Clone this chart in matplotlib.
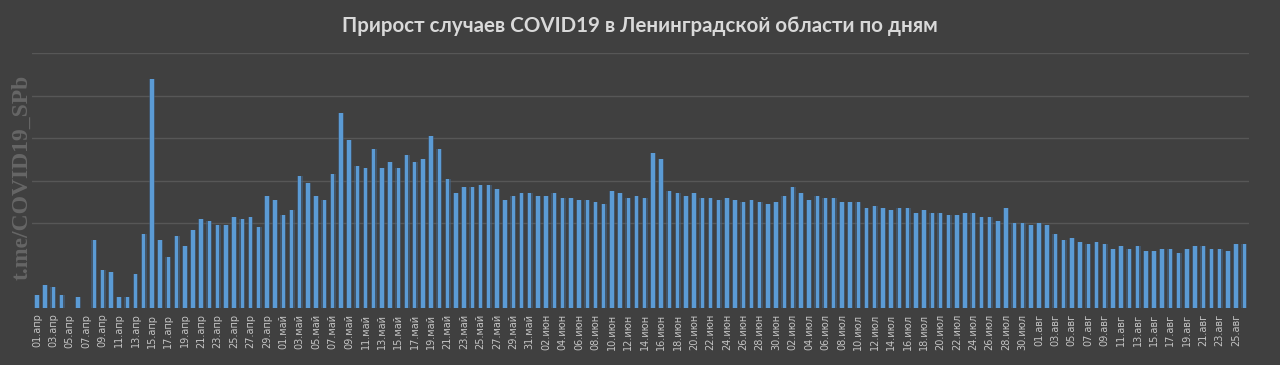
import matplotlib.pyplot as plt
import numpy as np

# daily increase, 01 apr .. 26 aug
cases = [6, 11, 10, 6, 0, 5, 0, 32, 18, 17, 5, 5, 16, 35, 108, 32, 24, 34, 29, 37,
         42, 41, 39, 39, 43, 42, 43, 38, 53, 51, 44, 46, 62, 59, 53, 51, 63, 92, 79, 67,
         66, 75, 66, 69, 66, 72, 69, 70, 81, 75, 61, 54, 57, 57, 58, 58, 56, 51, 53, 54,
         54, 53, 53, 54, 52, 52, 51, 51, 50, 49, 55, 54, 52, 53, 52, 73, 70, 55, 54, 53,
         54, 52, 52, 51, 52, 51, 50, 51, 50, 49, 50, 53, 57, 54, 51, 53, 52, 52, 50, 50,
         50, 47, 48, 47, 46, 47, 47, 45, 46, 45, 45, 44, 44, 45, 45, 43, 43, 41, 47, 40,
         40, 39, 40, 39, 35, 32, 33, 31, 30, 31, 30, 28, 29, 28, 29, 27, 27, 28, 28, 26,
         28, 29, 29, 28, 28, 27, 30, 30]

months = ['апр', 'май', 'июн', 'июл', 'авг']
month_days = [30, 31, 30, 31, 26]
labels = [f'{d:02d}.{m}' for m, n in zip(months, month_days) for d in range(1, n + 1)]

bg = '#404040'
fig = plt.figure(figsize=(12.8, 3.65), dpi=100, facecolor=bg)
ax = fig.add_axes([0.025, 0.156, 0.951, 0.698], facecolor=bg)

x = np.arange(len(cases))
# soft glow behind the bars
ax.bar(x, cases, width=0.72, color='#44688c', alpha=0.55, zorder=2)
ax.bar(x, cases, width=0.42, color='#5b9bd5', zorder=3)

ax.set_xlim(-0.6, len(cases) - 0.4)
ax.set_ylim(0, 120)
ax.set_yticks(np.arange(40, 121, 20))
ax.set_yticklabels([])
ax.tick_params(axis='y', length=0)
ax.grid(axis='y', color='#575757', linewidth=1, zorder=0)
ax.set_axisbelow(True)

ax.set_xticks(x[::2])
ax.set_xticklabels(labels[::2], rotation=90, fontsize=7, color='#c4c4c4',
                   family='DejaVu Sans')
ax.tick_params(axis='x', length=0, pad=4)
for s in ax.spines.values():
    s.set_visible(False)

fig.text(0.5, 0.93, 'Прирост случаев COVID19 в Ленинградской области по дням',
         ha='center', va='center', fontsize=14.8, fontweight='bold', color='#d9d9d9',
         family='Lato')
fig.text(0.017, 0.515, 't.me/COVID19_SPb', rotation=90, ha='center', va='center',
         fontsize=17, fontweight='bold', color='#666666', family='Liberation Serif')

fig.savefig('out.png', dpi=100, facecolor=bg)
